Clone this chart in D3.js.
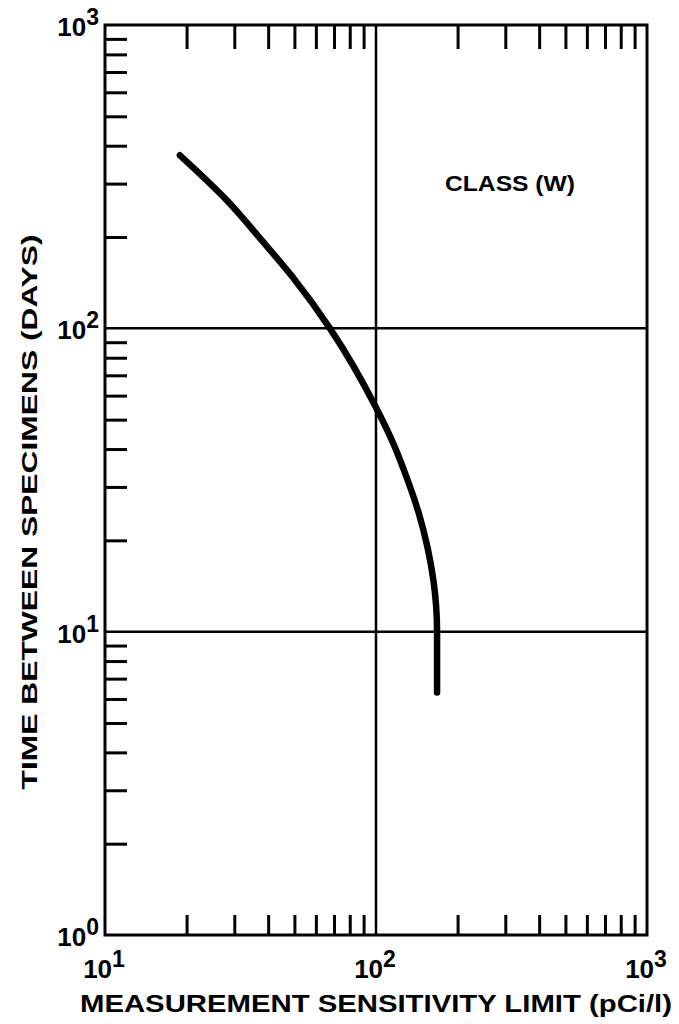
<!DOCTYPE html>
<html>
<head>
<meta charset="utf-8">
<title>Time between specimens</title>
<style>
  body { margin: 0; background: #fff; }
  text { font-family: "Liberation Sans", Arial, sans-serif; font-weight: bold; fill: #000; }
</style>
</head>
<body>
<script src="https://cdn.jsdelivr.net/npm/d3@7/dist/d3.min.js"></script>
<script>
// curve: sensitivity limit (pCi/l) vs days
const sensX = [18.9, 28.2, 37.9, 49.4, 67.6, 100, 117.5, 131, 144, 155, 163, 168, 168]
const daysY = [372, 264, 195, 147, 100, 54.8, 40.5, 31.5, 24.5, 18.9, 14.7, 10, 6.3]
// decades
const xDecades = [10, 100, 1000]
const yDecades = [1, 10, 100, 1000]
const xGrid = [100]
const yGrid = [10, 100]
const classLabel = "CLASS (W)"

const width = 679, height = 1024
const m = {left: 105, right: 647, top: 25, bottom: 935}

const svg = d3.select("body").append("svg")
  .attr("width", width).attr("height", height)

const x = d3.scaleLog().domain([10, 1000]).range([m.left, m.right])
const y = d3.scaleLog().domain([1, 1000]).range([m.bottom, m.top])

// minor ticks 2..9 within each decade
const minors = dec => dec.slice(0, -1).flatMap(d => d3.range(2, 10).map(k => k * d))

// bottom ticks (pointing up)
svg.append("g")
  .attr("transform", `translate(0,${m.bottom})`)
  .call(d3.axisBottom(x).tickValues(minors(xDecades)).tickSize(-20).tickFormat(""))
// top ticks (pointing down)
svg.append("g")
  .attr("transform", `translate(0,${m.top})`)
  .call(d3.axisTop(x).tickValues(minors(xDecades)).tickSize(-24).tickFormat(""))
// left ticks (pointing right)
svg.append("g")
  .attr("transform", `translate(${m.left},0)`)
  .call(d3.axisLeft(y).tickValues(minors(yDecades)).tickSize(-22).tickFormat(""))

svg.selectAll(".domain").remove()
svg.selectAll(".tick line").attr("stroke", "#000").attr("stroke-width", 3)

// grid lines
svg.append("g").selectAll("line").data(xGrid).join("line")
  .attr("x1", d => x(d)).attr("x2", d => x(d))
  .attr("y1", m.top).attr("y2", m.bottom)
  .attr("stroke", "#000").attr("stroke-width", 2.5)
svg.append("g").selectAll("line").data(yGrid).join("line")
  .attr("x1", m.left).attr("x2", m.right)
  .attr("y1", d => y(d)).attr("y2", d => y(d))
  .attr("stroke", "#000").attr("stroke-width", 2.5)

// frame
svg.append("rect")
  .attr("x", m.left).attr("y", m.top)
  .attr("width", m.right - m.left).attr("height", m.bottom - m.top)
  .attr("fill", "none").attr("stroke", "#000").attr("stroke-width", 3)

// power-of-ten labels
const powLabel = (g, v) => {
  g.append("tspan").text("10")
  g.append("tspan").attr("dy", -11).attr("font-size", 23).text(Math.round(Math.log10(v)))
}
svg.append("g").selectAll("text").data(xDecades).join("text")
  .attr("x", d => x(d) - 1).attr("y", 978)
  .attr("text-anchor", "middle").attr("font-size", 26)
  .each(function(d) { powLabel(d3.select(this), d) })
svg.append("g").selectAll("text").data(yDecades).join("text")
  .attr("x", m.left - 6).attr("y", d => y(d) + 11)
  .attr("text-anchor", "end").attr("font-size", 26)
  .each(function(d) { powLabel(d3.select(this), d) })

// axis titles
svg.append("text")
  .attr("x", 80).attr("y", 1012)
  .attr("font-size", 23)
  .attr("textLength", 592).attr("lengthAdjust", "spacingAndGlyphs")
  .text("MEASUREMENT SENSITIVITY LIMIT (pCi/l)")
svg.append("text")
  .attr("transform", "translate(37,512) rotate(-90)")
  .attr("text-anchor", "middle").attr("font-size", 22)
  .attr("textLength", 555).attr("lengthAdjust", "spacingAndGlyphs")
  .text("TIME BETWEEN SPECIMENS (DAYS)")

svg.append("text")
  .attr("x", 445).attr("y", 191)
  .attr("font-size", 22)
  .attr("textLength", 130).attr("lengthAdjust", "spacingAndGlyphs")
  .text(classLabel)

// the curve
const line = d3.line()
  .x((d, i) => x(sensX[i]))
  .y(d => y(d))
  .curve(d3.curveMonotoneY)
svg.append("path")
  .attr("d", line(daysY))
  .attr("fill", "none").attr("stroke", "#000")
  .attr("stroke-width", 6.5).attr("stroke-linecap", "round")
</script>
</body>
</html>
